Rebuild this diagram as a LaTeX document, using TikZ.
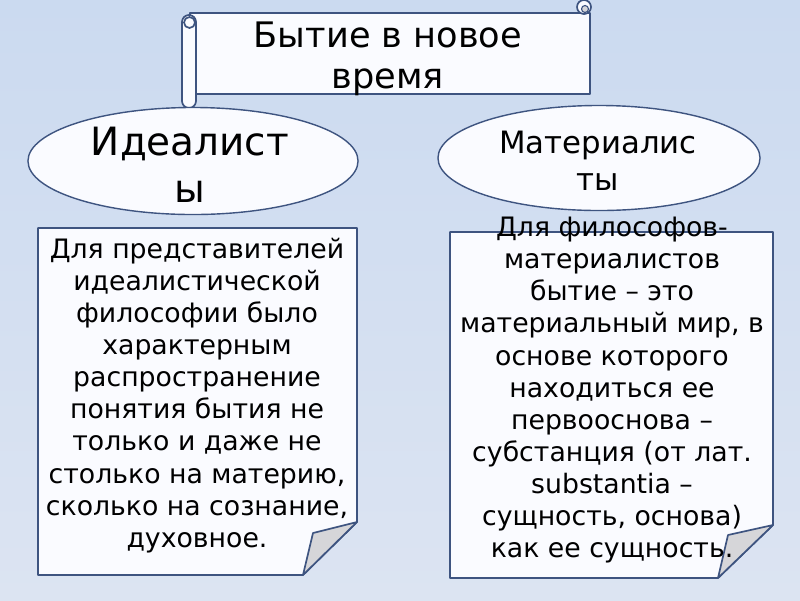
\documentclass[tikz,border=0pt]{standalone}
\usepackage{fontspec}
\setmainfont{DejaVu Sans}
\usetikzlibrary{shapes.geometric}
\definecolor{bgtop}{RGB}{203,218,240}
\definecolor{bgbottom}{RGB}{220,228,242}
\definecolor{myedge}{RGB}{62,84,128}
\definecolor{mypaper}{RGB}{250,251,255}
\definecolor{myfold}{RGB}{214,214,217}
\tikzset{
  paper/.style={draw=myedge, fill=mypaper, line width=1.2pt, line join=round},
  fold/.style={draw=myedge, fill=myfold, line width=1.2pt, line join=round},
  oval/.style={ellipse, draw=myedge, fill=mypaper, line width=1pt, inner sep=0pt},
  textblock/.style={align=center, inner sep=0pt, anchor=north, text=black}
}

\begin{document}
\begin{tikzpicture}[x=0.025cm, y=-0.025cm]
  % Background
  \shade[top color=bgtop, bottom color=bgbottom] (0,0) rectangle (800,600);
  \useasboundingbox (0,0) rectangle (800,600);

  % Scroll with the title
  \draw[paper] (190,13) rectangle (590,94);
  \draw[paper, rounded corners=1.75mm] (182,15) rectangle (196,108);
  \draw[paper] (189.5,22.5) circle[radius=5.5];
  \draw[paper] (584,7) circle[radius=7];
  \draw[fold, line width=0.8pt] (585,9) circle[radius=3.5];
  \node[textblock, font={\fontsize{25}{29.2}\selectfont}] (title) at (388,22) {Бытие в новое\\время};

  % Two ovals
  \node[oval, minimum width=8.25cm, minimum height=2.675cm] (ideal) at (193,161) {};
  \node[oval, minimum width=8.05cm, minimum height=2.625cm] (mater) at (599,158) {};
  \node[textblock, font={\fontsize{27.7}{33.4}\selectfont}] (idealname) at (190,126.5) {Идеалист\\ы};
  \node[textblock, font={\fontsize{21.9}{26.3}\selectfont}] (matername) at (598,130.5) {Материалис\\ты};

  % Left note with folded corner
  \draw[paper] (38,228) -- (357,228) -- (357,522) -- (303,575) -- (38,575) -- cycle;
  \draw[fold] (357,522) -- (313,533) -- (303,575) -- cycle;
  \node[textblock, font={\fontsize{19}{22.8}\selectfont}] (idealtext) at (197,238)
    {Для представителей\\идеалистической\\философии было\\характерным\\распространение\\понятия бытия не\\только и даже не\\столько на материю,\\сколько на сознание,\\духовное.};

  % Right note with folded corner
  \draw[paper] (450,232) -- (773,232) -- (773,525) -- (718,578) -- (450,578) -- cycle;
  \draw[fold] (773,525) -- (728,535) -- (718,578) -- cycle;
  \node[textblock, font={\fontsize{19}{22.8}\selectfont}] (matertext) at (612,217)
    {Для философов-\\материалистов\\бытие -- это\\материальный мир, в\\основе которого\\находиться ее\\первооснова --\\субстанция (от лат.\\substantia --\\сущность, основа)\\как ее сущность.};
\end{tikzpicture}
\end{document}
